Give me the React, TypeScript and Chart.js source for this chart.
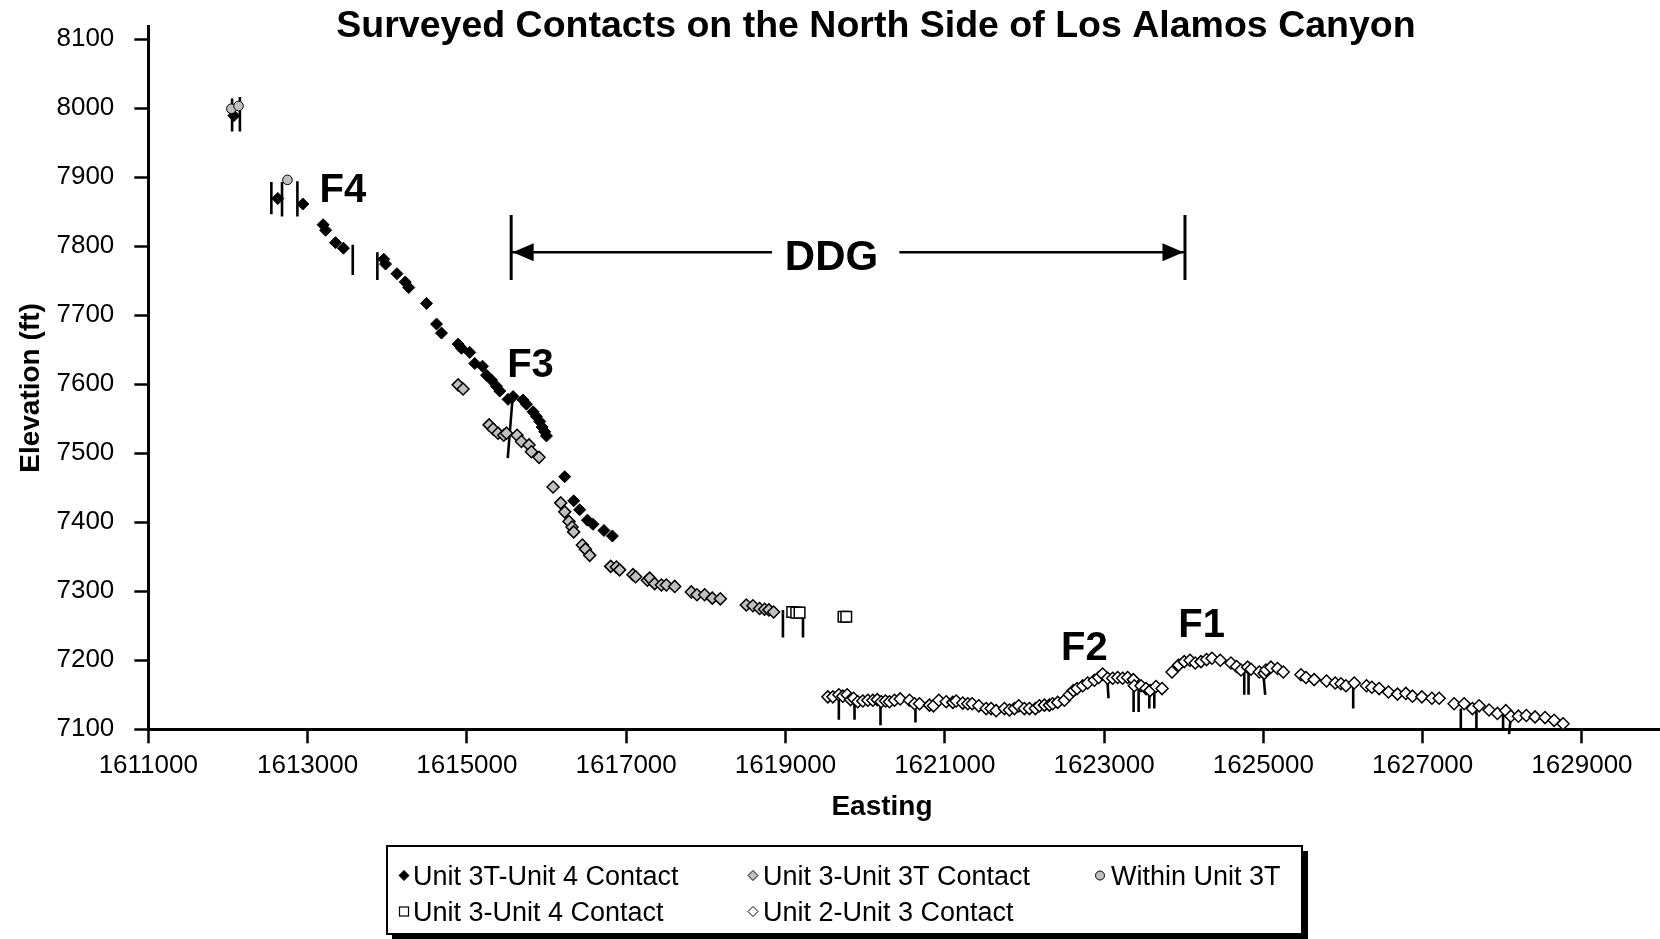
import React, { useEffect, useRef } from 'react';
import { Chart, registerables } from 'chart.js';

Chart.register(...registerables);

const FONT = '"Liberation Sans", Arial, Helvetica, sans-serif';

const titleText = 'Surveyed Contacts on the North Side of Los Alamos Canyon';
const xAxisTitle = 'Easting';
const yAxisTitle = 'Elevation (ft)';

const xTickValues = [1611000, 1613000, 1615000, 1617000, 1619000, 1621000, 1623000, 1625000, 1627000, 1629000];
const yTickValues = [7100, 7200, 7300, 7400, 7500, 7600, 7700, 7800, 7900, 8000, 8100];

// Unit 3T-Unit 4 Contact (black diamonds)
const u3tU4E = [1612074, 1612626, 1612940, 1613195, 1613226, 1613351, 1613450, 1613956, 1613979, 1614122, 1614226, 1614270,
  1614493, 1614619, 1614681, 1614890, 1614932, 1615036, 1615099, 1615196, 1615246, 1615309, 1615371, 1615413,
  1615517, 1615580, 1615705, 1615748, 1615831, 1615873, 1615915, 1615944, 1615977, 1615999,
  1616228, 1616341, 1616416, 1616513, 1616583, 1616721, 1616827];
const u3tU4Elev = [7989, 7869, 7861, 7831, 7823, 7805, 7797, 7781, 7774, 7760, 7748, 7740,
  7717, 7687, 7674, 7658, 7652, 7646, 7630, 7626, 7613, 7606, 7597, 7590,
  7578, 7582, 7577, 7571, 7560, 7553, 7546, 7538, 7531, 7525,
  7466, 7431, 7418, 7403, 7397, 7388, 7380];

// Unit 3-Unit 3T Contact (gray diamonds)
const u3U3tE = [1614890, 1614952, 1615279, 1615329, 1615391, 1615463, 1615497, 1615630, 1615685, 1615780, 1615810, 1615906,
  1616082, 1616178, 1616228, 1616282, 1616320, 1616341, 1616450, 1616488, 1616542,
  1616806, 1616877, 1616918, 1617085, 1617119, 1617266, 1617295, 1617357, 1617442, 1617504, 1617609,
  1617818, 1617889, 1617985, 1618081, 1618182,
  1618508, 1618591, 1618675, 1618738, 1618792, 1618851];
const u3U3tElev = [7599, 7593, 7541, 7535, 7529, 7526, 7529, 7526, 7517, 7512, 7502, 7494,
  7451, 7428, 7415, 7401, 7393, 7386, 7367, 7361, 7352,
  7336, 7335, 7331, 7324, 7321, 7316, 7319, 7311, 7309, 7309, 7307,
  7299, 7295, 7295, 7290, 7289,
  7280, 7279, 7275, 7274, 7273, 7270];

// Within Unit 3T (gray circles)
const within3tE = [1612043, 1612133, 1612747];
const within3tElev = [7999, 8003, 7896];

// Unit 3-Unit 4 Contact (white squares)
const u3U4E = [1619085, 1619135, 1619177, 1619729, 1619763];
const u3U4Elev = [7270, 7269, 7269, 7263, 7263];

// Unit 2-Unit 3 Contact (white diamonds)
const u2U3E = [1619532, 1619595, 1619670, 1619720, 1619775, 1619817, 1619855, 1619908, 1619971, 1620034, 1620097, 1620152,
  1620202, 1620256, 1620306, 1620369, 1620440, 1620557, 1620620, 1620683, 1620808, 1620858, 1620925, 1621018,
  1621101, 1621143, 1621226, 1621289, 1621344, 1621427, 1621520, 1621582, 1621645, 1621749, 1621812, 1621875,
  1621929, 1622000, 1622063, 1622138, 1622188, 1622251, 1622314, 1622355, 1622418, 1622502, 1622565, 1622615,
  1622661, 1622732, 1622794, 1622878, 1622932, 1622982, 1623045, 1623108, 1623171, 1623233, 1623296, 1623367,
  1623380, 1623464, 1623527, 1623577, 1623652, 1623728,
  1623853, 1623936, 1624007, 1624079, 1624145, 1624217, 1624287, 1624355, 1624459, 1624593, 1624664, 1624719,
  1624802, 1624845, 1624949, 1625011, 1625033, 1625095, 1625178, 1625250, 1625472, 1625535, 1625638, 1625793,
  1625902, 1625974, 1626037, 1626141, 1626295, 1626362, 1626454, 1626571, 1626684, 1626789, 1626872, 1626990,
  1627116, 1627207, 1627395, 1627521, 1627625, 1627709, 1627834, 1627939, 1628044, 1628107, 1628202, 1628302,
  1628411, 1628537, 1628650, 1628763];
const u2U3Elev = [7147, 7147, 7150, 7148, 7150, 7143, 7145, 7140, 7141, 7142, 7142, 7143,
  7140, 7141, 7140, 7142, 7144, 7142, 7137, 7137, 7135, 7134, 7142, 7140,
  7139, 7141, 7138, 7137, 7137, 7134, 7130, 7130, 7127, 7130, 7128, 7130,
  7134, 7130, 7130, 7130, 7134, 7135, 7135, 7137, 7139, 7142, 7150, 7156,
  7159, 7163, 7167, 7171, 7175, 7180, 7174, 7174, 7175, 7174, 7175, 7172,
  7163, 7163, 7159, 7156, 7162, 7159,
  7183, 7193, 7198, 7200, 7196, 7198, 7201, 7203, 7200, 7196, 7191, 7186,
  7190, 7187, 7183, 7181, 7186, 7190, 7188, 7183, 7179, 7175, 7172, 7170,
  7167, 7166, 7163, 7167, 7163, 7161, 7159, 7154, 7151, 7152, 7148, 7147,
  7145, 7145, 7137, 7137, 7130, 7134, 7128, 7123, 7127, 7119, 7119, 7120,
  7118, 7117, 7113, 7108];

// Fault tick segments (top end and bottom end)
const faultTopE = [1612052, 1612150, 1612545, 1612679, 1612872, 1613567, 1613876, 1615580, 1618968, 1619220,
  1619670, 1619867, 1620193, 1620632, 1623039, 1623371, 1623434, 1623568, 1623631,
  1624760, 1624814, 1624998, 1626128, 1627479, 1627675, 1628010, 1628107];
const faultTopElev = [8014, 8016, 7893, 7893, 7894, 7802, 7791, 7589, 7273, 7275,
  7145, 7145, 7138, 7138, 7176, 7167, 7167, 7154, 7154,
  7193, 7193, 7183, 7163, 7130, 7126, 7123, 7118];
const faultBottomE = [1612052, 1612150, 1612545, 1612679, 1612872, 1613567, 1613876, 1615513, 1618968, 1619220,
  1619670, 1619867, 1620193, 1620632, 1623056, 1623371, 1623434, 1623568, 1623631,
  1624760, 1624814, 1625023, 1626128, 1627479, 1627675, 1628010, 1628085];
const faultBottomElev = [7966, 7966, 7846, 7843, 7843, 7758, 7751, 7493, 7233, 7233,
  7114, 7114, 7106, 7110, 7145, 7125, 7125, 7130, 7130,
  7150, 7150, 7150, 7130, 7101, 7101, 7101, 7093];

// Feature labels
const featureLabels = ['F4', 'F3', 'F2', 'F1'];
const featureLabelE = [1613443, 1615799, 1622753, 1624224];
const featureLabelElev = [7864, 7611, 7200, 7234];

// DDG span
const ddgLabel = 'DDG';
const ddgStartE = 1615556;
const ddgEndE = 1624016;
const ddgLineLeftEndE = 1618830;
const ddgLineRightStartE = 1620430;
const ddgLabelE = 1619578;
const ddgLabelElev = 7766;
const ddgArrowElev = 7791;
const ddgBarTopElev = 7845;
const ddgBarBottomElev = 7751;

const toPoints = (e: number[], v: number[]) => e.map((x, i) => ({ x, y: v[i] }));

const faultPoints = () => {
  const out: { x: number; y: number | null }[] = [];
  faultTopE.forEach((e, i) => {
    out.push({ x: e, y: faultTopElev[i] });
    out.push({ x: faultBottomE[i], y: faultBottomElev[i] });
    out.push({ x: faultBottomE[i], y: null });
  });
  return out;
};

function drawDiamond(ctx: CanvasRenderingContext2D, x: number, y: number, r: number, fill: string, lw: number) {
  ctx.beginPath();
  ctx.moveTo(x - r, y);
  ctx.lineTo(x, y - r);
  ctx.lineTo(x + r, y);
  ctx.lineTo(x, y + r);
  ctx.closePath();
  ctx.fillStyle = fill;
  ctx.fill();
  ctx.lineWidth = lw;
  ctx.strokeStyle = '#000';
  ctx.stroke();
}

const legendItems = [
  { label: 'Unit 3T-Unit 4 Contact', shape: 'diamond', fill: '#000', mx: 404, tx: 413, row: 0 },
  { label: 'Unit 3-Unit 3T Contact', shape: 'diamond', fill: '#c0c0c0', mx: 753, tx: 763, row: 0 },
  { label: 'Within Unit 3T', shape: 'circle', fill: '#c0c0c0', mx: 1100, tx: 1111, row: 0 },
  { label: 'Unit 3-Unit 4 Contact', shape: 'square', fill: '#fff', mx: 404, tx: 413, row: 1 },
  { label: 'Unit 2-Unit 3 Contact', shape: 'diamond', fill: '#fff', mx: 753, tx: 763, row: 1 },
];

const zeroPadding = (axis: any) => {
  axis.paddingLeft = 0;
  axis.paddingRight = 0;
  axis.paddingTop = 0;
  axis.paddingBottom = 0;
};

const overlayPlugin = {
  id: 'overlay',
  afterDraw(chart: any) {
    const ctx: CanvasRenderingContext2D = chart.ctx;
    const xs = chart.scales.x;
    const ys = chart.scales.y;
    ctx.save();
    ctx.fillStyle = '#000';
    ctx.textAlign = 'center';
    ctx.textBaseline = 'alphabetic';

    ctx.font = `bold 37.5px ${FONT}`;
    ctx.fillText(titleText, 876, 37);

    ctx.font = `bold 28px ${FONT}`;
    ctx.fillText(xAxisTitle, 882, 815);
    ctx.save();
    ctx.translate(38.5, 388);
    ctx.rotate(-Math.PI / 2);
    ctx.fillText(yAxisTitle, 0, 0);
    ctx.restore();

    ctx.font = `bold 40px ${FONT}`;
    featureLabels.forEach((t, i) => {
      ctx.fillText(t, xs.getPixelForValue(featureLabelE[i]), ys.getPixelForValue(featureLabelElev[i]));
    });

    ctx.font = `bold 42px ${FONT}`;
    ctx.fillText(ddgLabel, xs.getPixelForValue(ddgLabelE), ys.getPixelForValue(ddgLabelElev));

    const xl = xs.getPixelForValue(ddgStartE);
    const xr = xs.getPixelForValue(ddgEndE);
    const yt = ys.getPixelForValue(ddgBarTopElev);
    const yb = ys.getPixelForValue(ddgBarBottomElev);
    const ya = ys.getPixelForValue(ddgArrowElev);
    ctx.strokeStyle = '#000';
    ctx.lineWidth = 3;
    ctx.beginPath();
    ctx.moveTo(xl, yt); ctx.lineTo(xl, yb);
    ctx.moveTo(xr, yt); ctx.lineTo(xr, yb);
    ctx.stroke();
    ctx.lineWidth = 2.5;
    ctx.beginPath();
    ctx.moveTo(xl, ya); ctx.lineTo(xs.getPixelForValue(ddgLineLeftEndE), ya);
    ctx.moveTo(xs.getPixelForValue(ddgLineRightStartE), ya); ctx.lineTo(xr, ya);
    ctx.stroke();
    const ah = 21, aw = 9;
    ctx.beginPath();
    ctx.moveTo(xl + 1.5, ya); ctx.lineTo(xl + 1.5 + ah, ya - aw); ctx.lineTo(xl + 1.5 + ah, ya + aw); ctx.closePath();
    ctx.moveTo(xr - 1.5, ya); ctx.lineTo(xr - 1.5 - ah, ya - aw); ctx.lineTo(xr - 1.5 - ah, ya + aw); ctx.closePath();
    ctx.fill();

    // legend box
    const L = 387, T = 846, R = 1302, B = 934;
    ctx.fillStyle = '#000';
    ctx.fillRect(L + 5, T + 5, R - L + 1, B - T + 1);
    ctx.fillStyle = '#fff';
    ctx.fillRect(L, T, R - L, B - T);
    ctx.lineWidth = 2;
    ctx.strokeStyle = '#000';
    ctx.strokeRect(L, T, R - L, B - T);

    ctx.font = `27px ${FONT}`;
    ctx.textAlign = 'left';
    legendItems.forEach((it) => {
      const cy = it.row === 0 ? 875.5 : 911.5;
      if (it.shape === 'diamond') {
        drawDiamond(ctx, it.mx, cy, 5, it.fill, 1);
      } else if (it.shape === 'circle') {
        ctx.beginPath();
        ctx.arc(it.mx, cy, 4.5, 0, Math.PI * 2);
        ctx.fillStyle = it.fill; ctx.fill();
        ctx.lineWidth = 1; ctx.strokeStyle = '#000'; ctx.stroke();
      } else {
        ctx.fillStyle = it.fill;
        ctx.fillRect(it.mx - 4.5, cy - 4.5, 9, 9);
        ctx.lineWidth = 1.2; ctx.strokeStyle = '#000';
        ctx.strokeRect(it.mx - 4.5, cy - 4.5, 9, 9);
      }
      ctx.fillStyle = '#000';
      ctx.fillText(it.label, it.tx, cy + 9.6);
    });
    ctx.restore();
  },
};

export default function App() {
  const ref = useRef<HTMLCanvasElement | null>(null);
  useEffect(() => {
    if (!ref.current) return;
    const chart = new Chart(ref.current, {
      type: 'scatter',
      data: {
        datasets: [
          {
            label: 'Within Unit 3T',
            data: toPoints(within3tE, within3tElev),
            pointStyle: 'circle',
            pointRadius: 4.8,
            backgroundColor: '#c0c0c0',
            borderColor: '#000',
            borderWidth: 1,
            order: 1,
          },
          {
            label: 'Unit 3T-Unit 4 Contact',
            data: toPoints(u3tU4E, u3tU4Elev),
            pointStyle: 'rectRot',
            pointRadius: 6,
            backgroundColor: '#000',
            borderColor: '#000',
            borderWidth: 1,
            order: 2,
          },
          {
            label: 'Unit 3-Unit 3T Contact',
            data: toPoints(u3U3tE, u3U3tElev),
            pointStyle: 'rectRot',
            pointRadius: 6,
            backgroundColor: '#c0c0c0',
            borderColor: '#000',
            borderWidth: 1.5,
            order: 3,
          },
          {
            label: 'Unit 3-Unit 4 Contact',
            data: toPoints(u3U4E, u3U4Elev),
            pointStyle: 'rect',
            pointRadius: 7.5,
            backgroundColor: '#fff',
            borderColor: '#000',
            borderWidth: 1.5,
            order: 4,
          },
          {
            label: 'Unit 2-Unit 3 Contact',
            data: toPoints(u2U3E, u2U3Elev),
            pointStyle: 'rectRot',
            pointRadius: 6,
            backgroundColor: '#fff',
            borderColor: '#000',
            borderWidth: 1.5,
            order: 5,
          },
          {
            label: 'faults',
            data: faultPoints() as any,
            showLine: true,
            spanGaps: false,
            pointRadius: 0,
            borderColor: '#000',
            borderWidth: 2.6,
            clip: false as any,
            order: 6,
          },
        ],
      },
      options: {
        animation: false,
        responsive: false,
        events: [],
        layout: { autoPadding: false, padding: { top: 26.6, left: 0, right: 0, bottom: 0 } },
        plugins: {
          legend: { display: false },
          title: { display: false },
          tooltip: { enabled: false },
        },
        scales: {
          x: {
            type: 'linear',
            min: 1611000,
            max: 1629980,
            afterBuildTicks: (axis: any) => {
              axis.ticks = xTickValues.map((v) => ({ value: v }));
            },
            afterFit: (axis: any) => {
              axis.height = 209.7;
              zeroPadding(axis);
            },
            ticks: {
              color: '#000',
              font: { family: FONT, size: 26 },
              padding: 7,
              maxRotation: 0,
              autoSkip: false,
              callback: (v: any) => String(v),
            },
            grid: {
              drawOnChartArea: false,
              drawTicks: true,
              tickLength: 14,
              tickWidth: 2.5,
              tickColor: '#000',
            },
            border: { display: true, color: '#000', width: 3 },
          },
          y: {
            type: 'linear',
            min: 7100,
            max: 8118,
            afterBuildTicks: (axis: any) => {
              axis.ticks = yTickValues.map((v) => ({ value: v }));
            },
            afterFit: (axis: any) => {
              axis.width = 148.3;
              zeroPadding(axis);
            },
            ticks: {
              color: '#000',
              font: { family: FONT, size: 26 },
              padding: 20,
              autoSkip: false,
              callback: (v: any) => String(v),
            },
            grid: {
              drawOnChartArea: false,
              drawTicks: true,
              tickLength: 14,
              tickWidth: 2.5,
              tickColor: '#000',
            },
            border: { display: true, color: '#000', width: 3 },
          },
        },
      },
      plugins: [overlayPlugin],
    } as any);
    return () => chart.destroy();
  }, []);

  return (
    <div style={{ position: 'absolute', left: 0, top: 0, width: 1660, height: 939, background: '#fff' }}>
      <canvas ref={ref} width={1660} height={939} style={{ display: 'block', width: 1660, height: 939 }} />
    </div>
  );
}
